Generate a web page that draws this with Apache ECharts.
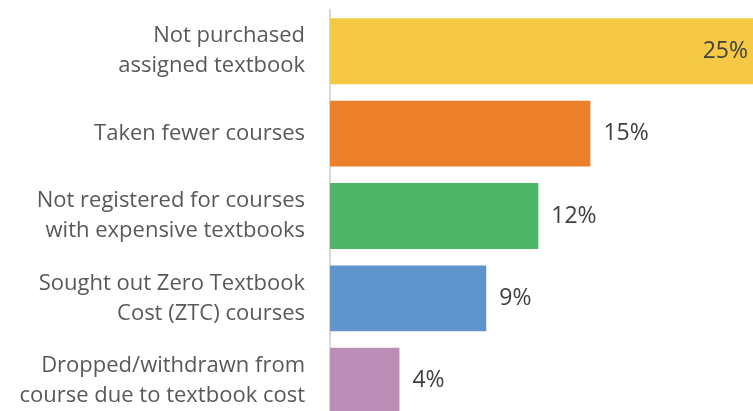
<!DOCTYPE html>
<html>
<head>
<meta charset="utf-8">
<script src="https://cdn.jsdelivr.net/npm/echarts@6/dist/echarts.min.js"></script>
<style>
html,body{margin:0;padding:0;background:#fff;}
#c{width:753px;height:411px;}
</style>
</head>
<body>
<div id="c"></div>
<script>
var categories = [
  "Not purchased\nassigned textbook",
  "Taken fewer courses",
  "Not registered for courses\nwith expensive textbooks",
  "Sought out Zero Textbook\nCost (ZTC) courses",
  "Dropped/withdrawn from\ncourse due to textbook cost"
];
var values = [25, 15, 12, 9, 4];
var colors = ["#F5C944", "#EC7F2A", "#4EB466", "#5F94CD", "#BB8CB6"];

var chart = echarts.init(document.getElementById('c'), null, {renderer: 'canvas'});
var font = "'Open Sans', 'Noto Sans', sans-serif";
chart.setOption({
  animation: false,
  backgroundColor: '#ffffff',
  grid: {left: 330, width: 434, top: 10, height: 412, containLabel: false, outerBoundsMode: 'none'},
  xAxis: {
    type: 'value', min: 0, max: 25,
    show: false
  },
  yAxis: {
    type: 'category',
    data: categories,
    inverse: true,
    axisLine: {show: true, lineStyle: {color: '#D9D9D9', width: 2}},
    axisTick: {show: false},
    axisLabel: {
      margin: 25,
      fontFamily: font,
      fontSize: 22,
      lineHeight: 30,
      color: '#595959',
      align: 'right'
    }
  },
  series: [{
    type: 'bar',
    barCategoryGap: '20%',
    clip: false,
    data: values.map(function (v, i) {
      return {
        value: v,
        itemStyle: {color: colors[i]},
        label: i === 0 ? {position: 'insideRight', distance: 16} : {position: 'right', distance: 13}
      };
    }),
    label: {
      show: true,
      formatter: '{c}%',
      fontFamily: font,
      fontSize: 23,
      color: '#404040'
    }
  }]
});
</script>
</body>
</html>
